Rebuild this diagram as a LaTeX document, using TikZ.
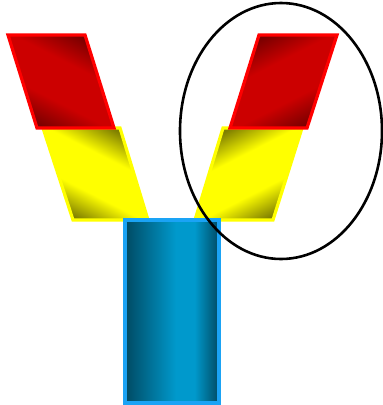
\documentclass[tikz,border=0pt]{standalone}
\usetikzlibrary{shapes.geometric}
\definecolor{redDark}{HTML}{7A0000}
\definecolor{redMid}{HTML}{CC0000}
\definecolor{redEdge}{HTML}{FF0000}
\definecolor{yellowDark}{HTML}{7F7F00}
\definecolor{yellowMid}{HTML}{FFFF00}
\definecolor{blueDark}{HTML}{004A63}
\definecolor{blueMid}{HTML}{0099CC}
\definecolor{blueEdge}{HTML}{1AA3F5}
% two-ended shadings for the slanted bars and the stem
\pgfdeclareverticalshading{redbar}{100bp}{color(0bp)=(redDark); color(25bp)=(redDark); color(40bp)=(redMid); color(60bp)=(redMid); color(75bp)=(redDark); color(100bp)=(redDark)}
\pgfdeclareverticalshading{yellowbar}{100bp}{color(0bp)=(yellowDark); color(25bp)=(yellowDark); color(40bp)=(yellowMid); color(60bp)=(yellowMid); color(75bp)=(yellowDark); color(100bp)=(yellowDark)}
\pgfdeclarehorizontalshading{bluestem}{100bp}{color(0bp)=(blueDark); color(25bp)=(blueDark); color(52bp)=(blueMid); color(62bp)=(blueMid); color(75bp)=(blueDark); color(100bp)=(blueDark)}
\begin{document}
\begin{tikzpicture}[
    x=1pt, y=-1pt,
    % Slanted bars
    redpara/.style={draw=redEdge, line width=3.2pt, shading=redbar},
    yellowpara/.style={draw=yellowMid, line width=3.2pt, shading=yellowbar},
    % Stem
    stem/.style={draw=blueEdge, line width=3.2pt, shading=bluestem},
    % Marking ring
    ring/.style={draw=black, line width=2.6pt}
]
\useasboundingbox (0,0) rectangle (383,405);

% --- LEFT ARM ---
\path[yellowpara, shading angle=-27] (43,128) -- (120,128) -- (148,220) -- (73,220) -- cycle;
\path[redpara, shading angle=-27] (8,35) -- (85,35) -- (114,128) -- (37,128) -- cycle;

% --- RIGHT ARM ---
\path[yellowpara, shading angle=27] (223,128) -- (302,128) -- (273,220) -- (195,220) -- cycle;
\path[redpara, shading angle=27] (259,35) -- (337,35) -- (307,128) -- (230,128) -- cycle;

% --- STEM ---
\path[stem] (125,220) rectangle (219,403);

% --- RING round the right arm ---
\draw[ring] (281,131) ellipse [x radius=101, y radius=128];

\end{tikzpicture}
\end{document}
